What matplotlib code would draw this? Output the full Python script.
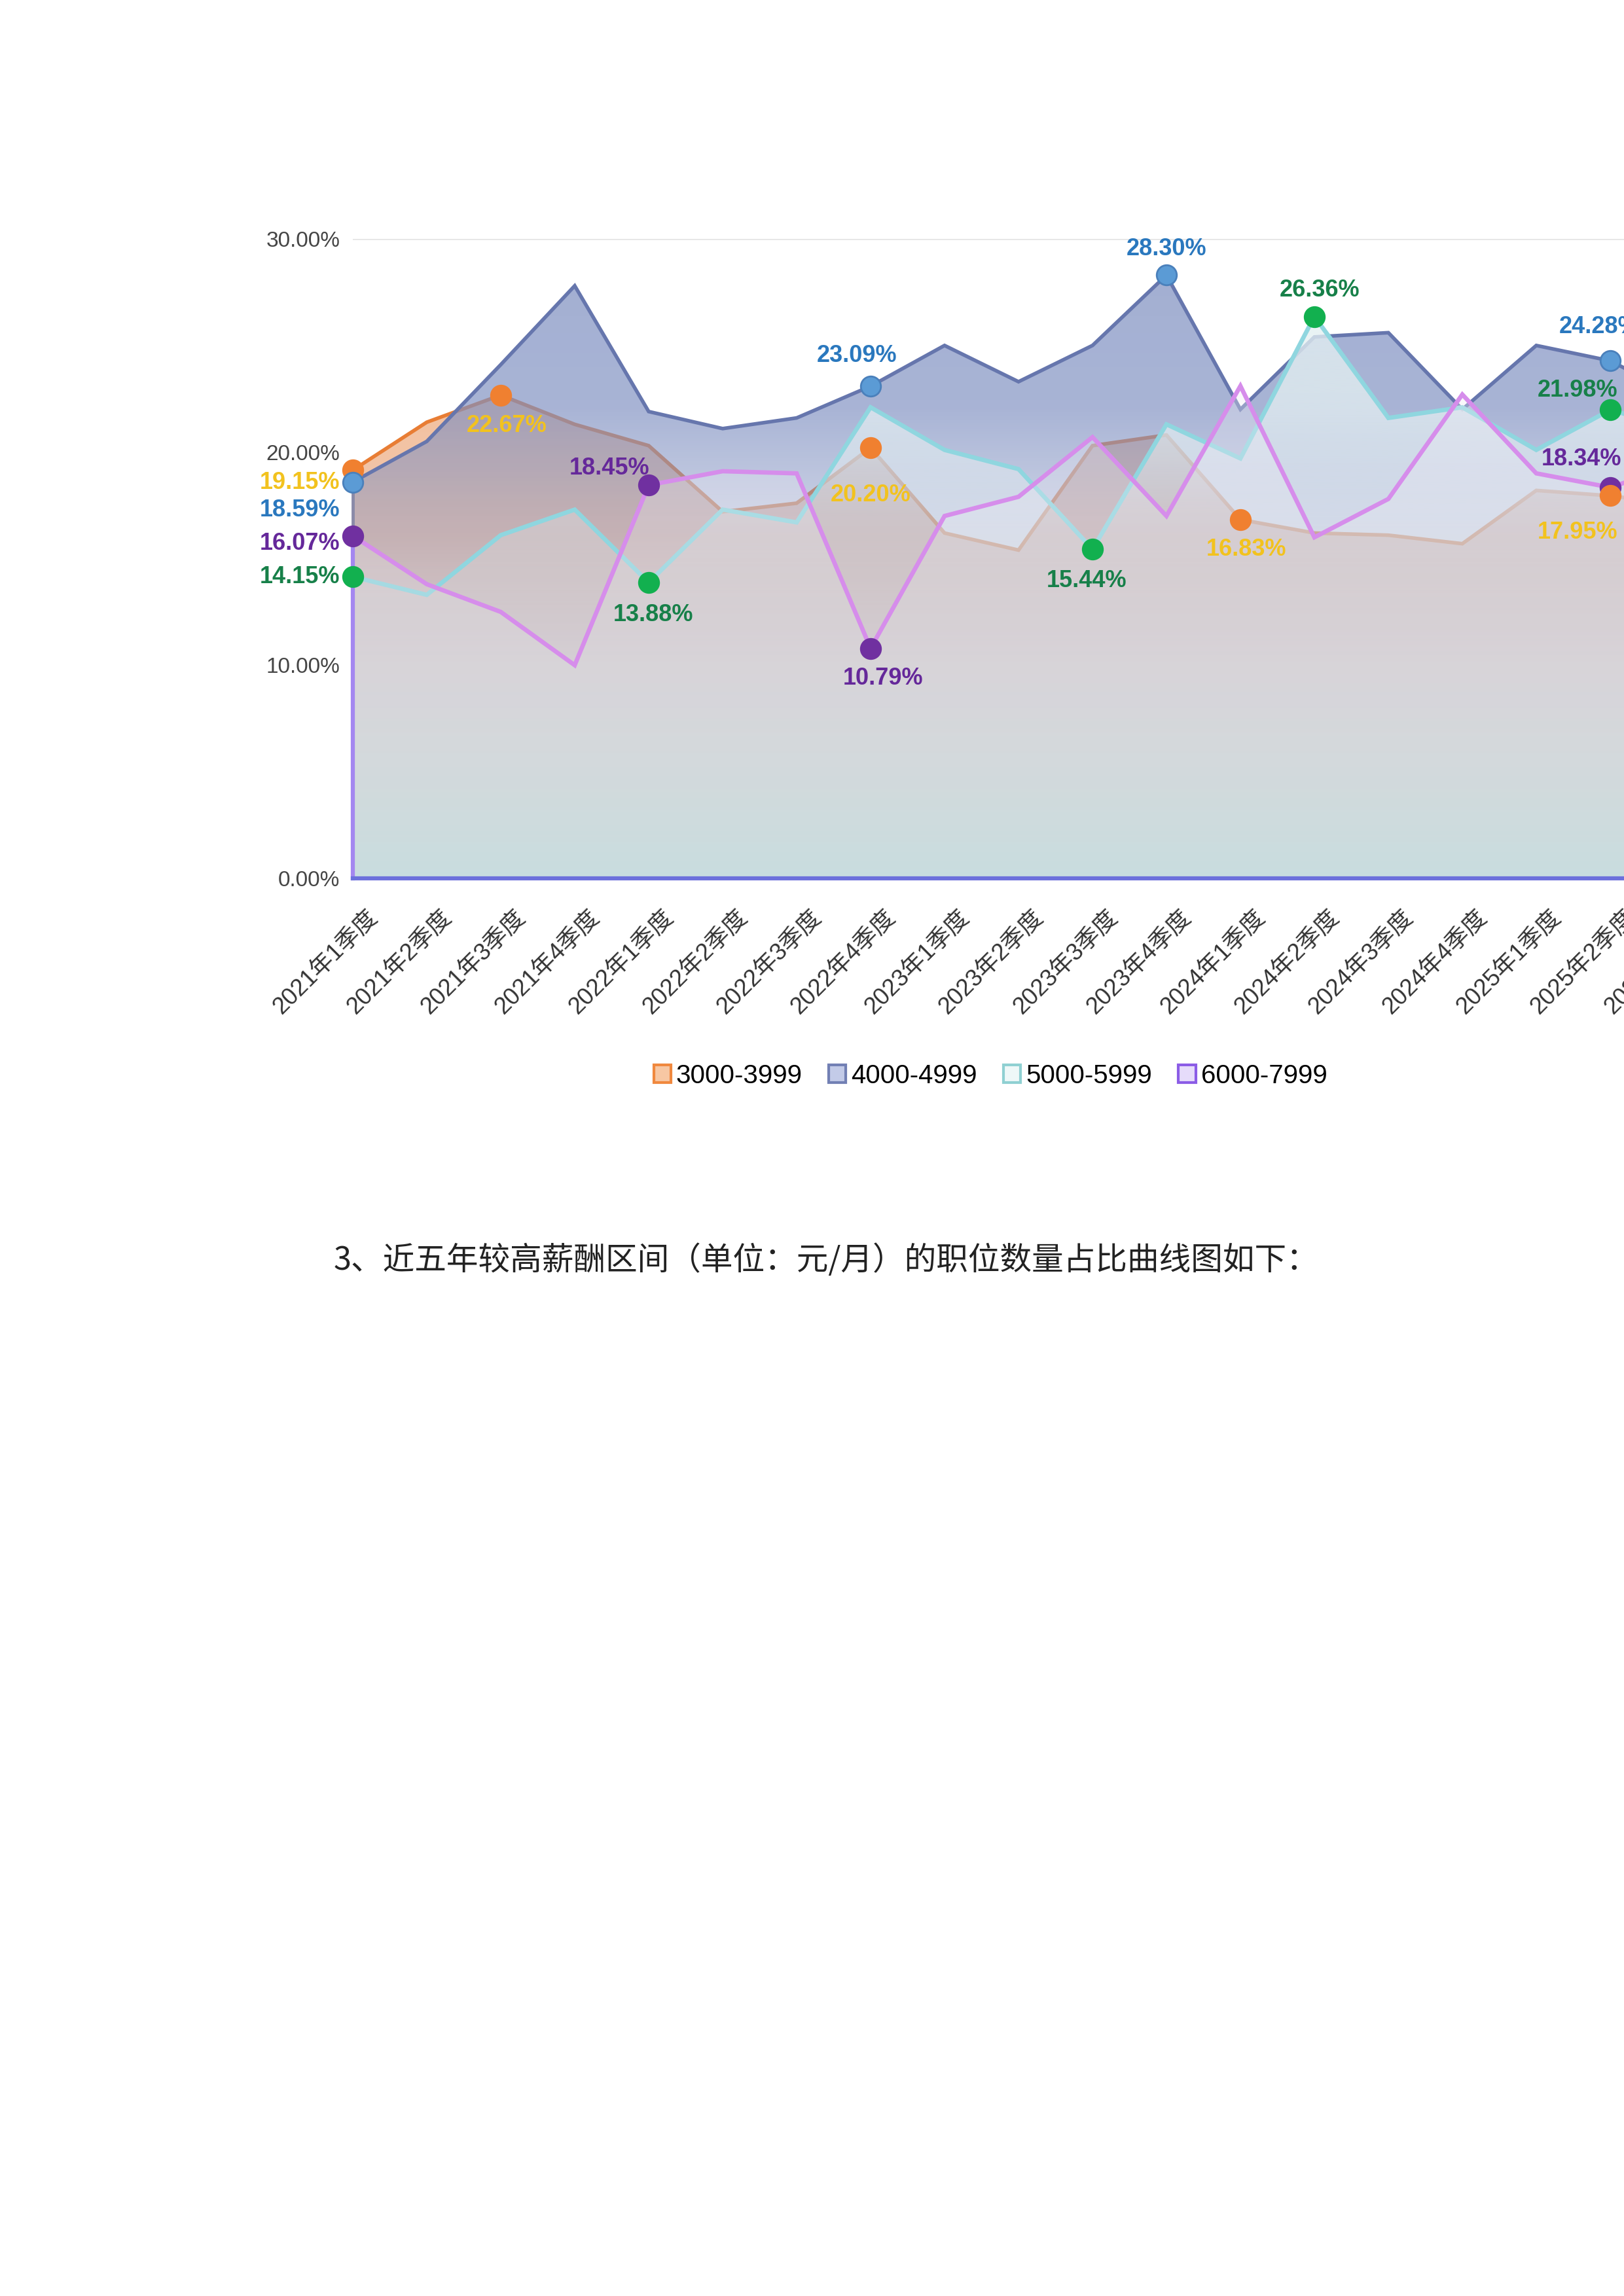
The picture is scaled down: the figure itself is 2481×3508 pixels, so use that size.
import numpy as np
import matplotlib
matplotlib.use("Agg")
import matplotlib.pyplot as plt
from matplotlib.patches import Patch
from matplotlib.transforms import ScaledTranslation

plt.rcParams['font.family'] = ['Liberation Sans', 'Noto Sans CJK SC', 'DejaVu Sans']

# ---------------- data ----------------
quarters = ['2021年1季度', '2021年2季度', '2021年3季度', '2021年4季度',
            '2022年1季度', '2022年2季度', '2022年3季度', '2022年4季度',
            '2023年1季度', '2023年2季度', '2023年3季度', '2023年4季度',
            '2024年1季度', '2024年2季度', '2024年3季度', '2024年4季度',
            '2025年1季度', '2025年2季度', '2025年3季度']
series_names = ['3000-3999', '4000-4999', '5000-5999', '6000-7999']
s3000 = [19.15, 21.4, 22.67, 21.3, 20.3, 17.2, 17.6, 20.20, 16.2, 15.4,
         20.3, 20.8, 16.83, 16.2, 16.1, 15.7, 18.2, 17.95, 17.5]
s4000 = [18.59, 20.5, 24.1, 27.8, 21.9, 21.1, 21.6, 23.09, 25.0, 23.3,
         25.0, 28.30, 22.0, 25.4, 25.6, 22.0, 25.0, 24.28, 22.5]
s5000 = [14.15, 13.3, 16.1, 17.3, 13.88, 17.3, 16.7, 22.1, 20.1, 19.2,
         15.44, 21.3, 19.7, 26.36, 21.6, 22.1, 20.1, 21.98, 21.0]
s6000 = [16.07, 13.8, 12.5, 10.0, 18.45, 19.1, 19.0, 10.79, 17.0, 17.9,
         20.7, 17.0, 23.1, 16.0, 17.8, 22.7, 19.0, 18.34, 19.5]
yticks = [0, 10, 20, 30]
ytick_labels = ['0.00%', '10.00%', '20.00%', '30.00%']
caption = '3、近五年较高薪酬区间（单位：元/月）的职位数量占比曲线图如下：'

# labelled points: (series index, point index, dx px, dy px, ha)
labels = [
    (0, 0, -20, -19, 'right'), (1, 0, -20, -43, 'right'),
    (3, 0, -20, -12, 'right'), (2, 0, -20, 0, 'right'),
    (0, 2, 9, -47, 'center'), (3, 4, -60, 26, 'center'),
    (2, 4, 7, -50, 'center'), (1, 7, -21, 47, 'center'),
    (0, 7, 0, -72, 'center'), (3, 7, 19, -46, 'center'),
    (2, 10, -9, -48, 'center'), (1, 11, 0, 40, 'center'),
    (0, 12, 9, -46, 'center'), (2, 13, 8, 40, 'center'),
    (1, 17, -17, 52, 'center'), (2, 17, -50, 30, 'center'),
    (3, 17, -44, 43, 'center'), (0, 17, -50, -56, 'center'),
]

# ---------------- style ----------------
data = [s3000, s4000, s5000, s6000]
line_colors = ['#e87d34', '#6676ad', '#8fd6df', '#d68deb']
line_widths = [4.0, 4.0, 4.8, 4.8]
marker_colors = ['#f08030', '#5b9bd5', '#12b04f', '#7030a0']
marker_edges = ['#f08030', '#4a80bb', '#12b04f', '#7030a0']
label_colors = ['#f2c21e', '#2a78be', '#178049', '#65289a']
legend_face = ['#f7c7a3', '#c3cbe8', '#eef8f8', '#e6dcfa']
legend_edge = ['#f0883e', '#7280b4', '#8fd0d2', '#8b5ce6']
grad_stops = [
    [(0, 210, 208, 208, 0.50), (10, 218, 196, 192, 0.55), (16, 236, 170, 130, 0.68), (30, 240, 165, 110, 0.72)],
    [(0, 190, 200, 212, 0.30), (10, 170, 175, 200, 0.32), (17, 135, 150, 195, 0.45), (22, 128, 145, 194, 0.68), (30, 125, 142, 192, 0.72)],
    [(0, 170, 215, 215, 0.40), (10, 212, 214, 216, 0.15), (17, 228, 238, 242, 0.35), (22, 228, 240, 242, 0.75), (30, 228, 240, 242, 0.82)],
    [(0, 205, 228, 228, 0.30), (10, 228, 230, 232, 0.22), (18, 238, 236, 245, 0.30), (30, 240, 238, 248, 0.42)],
]

W, H = 2481, 3508
fig = plt.figure(figsize=(W / 100, H / 100), dpi=100)
x0, x18 = 539, 2573
ax = fig.add_axes([x0 / W, 1 - 1342 / H, (x18 - x0) / W, (1342 - 365) / H])
n = len(quarters)
x = np.arange(n)
ax.set_xlim(0, n - 1)
ax.set_ylim(0, 30)


def grad_area(y, stops, z):
    coll = ax.fill_between(x, y, 0, facecolor='none', edgecolor='none', zorder=z)
    yy = np.linspace(0, 30, 600)
    st = np.array(stops, float)
    rgba = np.stack([np.interp(yy, st[:, 0], st[:, k]) for k in range(1, 5)], axis=1)
    rgba[:, :3] /= 255.0
    im = ax.imshow(rgba[:, None, :], extent=[0, n - 1, 0, 30], origin='lower',
                   aspect='auto', interpolation='bilinear', zorder=z)
    im.set_clip_path(coll.get_paths()[0], transform=ax.transData)


for i, y in enumerate(data):
    z = 1 + i * 0.5
    grad_area(y, grad_stops[i], z)
    ax.plot(x, y, color=line_colors[i], lw=line_widths[i], zorder=z + 0.1,
            solid_joinstyle='miter')

ax.set_xlim(0, n - 1)
ax.set_ylim(0, 30)

# left edge lines
ax.plot([0, 0], [0, s6000[0]], color='#a487f0', lw=4.5, zorder=6, clip_on=False)
ax.plot([0, 0], [s6000[0], s4000[0]], color='#8a8aa8', lw=3.5, zorder=6, clip_on=False)

# markers and labels
for si, pi, dx, dy, ha in labels:
    v = data[si][pi]
    ax.plot([pi], [v], 'o', ms=22, color=marker_colors[si], mec=marker_edges[si],
            mew=2, zorder=10, clip_on=False)
    ax.annotate(f'{v:.2f}%', (pi, v), xytext=(dx, dy), textcoords='offset pixels',
                ha=ha, va='center', fontsize=26, fontweight='bold',
                color=label_colors[si], zorder=11, annotation_clip=False)

# axes styling
ax.set_yticks(yticks)
ax.set_yticklabels(ytick_labels)
ax.axhline(30, color='#e4e4e4', lw=1.8, zorder=0.5)
for sp in ['top', 'right', 'left']:
    ax.spines[sp].set_visible(False)
ax.spines['bottom'].set_color('#6c70dc')
ax.spines['bottom'].set_linewidth(4.5)
ax.spines['bottom'].set_zorder(7)
ax.tick_params(axis='y', length=0, pad=14, labelsize=24, labelcolor='#454545')
ax.tick_params(axis='x', length=0, pad=30, labelsize=26, labelcolor='#333333')
ax.set_xticks(x)
ax.set_xticklabels(quarters, rotation=45, ha='right', va='top', rotation_mode='anchor')
off = ScaledTranslation(0.2, 0, fig.dpi_scale_trans)
for lab in ax.get_xticklabels():
    lab.set_transform(lab.get_transform() + off)

# legend
handles = [Patch(facecolor=legend_face[i], edgecolor=legend_edge[i], linewidth=3,
                 label=series_names[i]) for i in range(4)]
fig.legend(handles=handles, loc='center', bbox_to_anchor=(1513 / W, 1 - 1644 / H),
           ncol=4, frameon=False, fontsize=29, handlelength=0.65, handleheight=0.65,
           handletextpad=0.2, columnspacing=1.0)

# caption
fig.text(510 / W, 1 - 1926 / H, caption, fontsize=35, ha='left', va='center',
         color='#222222', family=['Noto Sans CJK SC', 'DejaVu Sans'])

fig.savefig('out.png', dpi=100, facecolor='white')
